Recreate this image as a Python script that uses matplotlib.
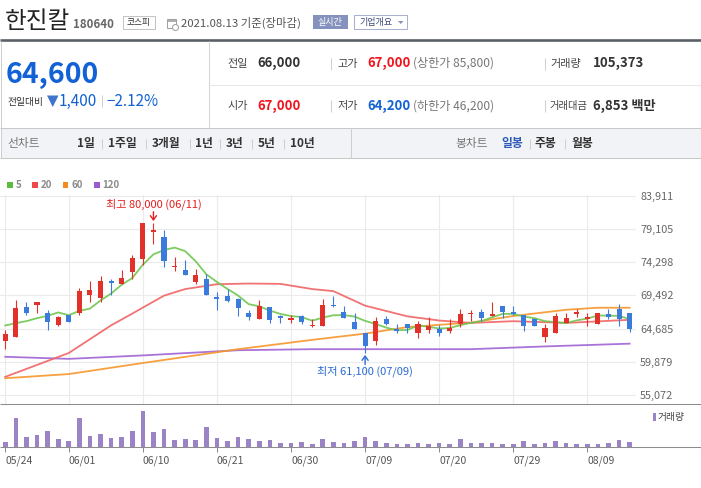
import matplotlib
matplotlib.use("Agg")
import matplotlib.pyplot as plt
from matplotlib.patches import Rectangle, Polygon, Circle
import numpy as np

plt.rcParams["font.family"] = ["Noto Sans CJK KR", "DejaVu Sans"]

W, H = 701, 488

# ---- data (daily candles 2021-05-24 .. 2021-08-13) ----
date_ticks = [0, 6, 13, 20, 27, 34, 41, 48, 55]
date_labels = ["05/24", "06/01", "06/10", "06/21", "06/30", "07/09", "07/20", "07/29", "08/09"]
price_ticks = [55072, 59879, 64685, 69492, 74298, 79105, 83911]

opens = [62950, 63450, 67750, 68150, 66950, 65150, 66600, 66900, 69500, 69100,
         71550, 71100, 72800, 74800, 78600, 78000, 73550, 73100, 71350, 71800,
         69200, 69450, 68950, 67000, 66100, 67750, 66450, 66000, 66500, 65000,
         65050, 68150, 67150, 65700, 64100, 62850, 66000, 64550, 65350, 64100,
         64450, 64550, 64300, 65300, 66750, 67150, 66500, 68000, 67150, 66700,
         66000, 63450, 64000, 65550, 66850, 66150, 65300, 66850, 67450, 67000]
highs = [64500, 68750, 68600, 68600, 67300, 66450, 66600, 70500, 71550, 72300,
         71900, 73200, 75400, 79900, 80000, 78950, 75100, 74650, 73350, 72600,
         69950, 70450, 69100, 67300, 68750, 67750, 66600, 66600, 66700, 66100,
         68950, 69450, 67900, 67000, 64100, 66300, 66450, 65350, 65350, 65850,
         66300, 65150, 66000, 67450, 67300, 67500, 68600, 68000, 68000, 66700,
         66200, 65350, 67000, 67000, 67450, 67000, 67000, 67500, 68300, 67000]
lows = [61700, 63450, 66700, 66900, 64450, 65000, 65600, 66600, 68500, 68600,
        69600, 71100, 71850, 73950, 76900, 73550, 73000, 72400, 71100, 69550,
        67300, 68500, 66450, 65900, 66100, 65550, 65450, 65500, 65400, 64900,
        65050, 67800, 66200, 64600, 61100, 62300, 65150, 64000, 64100, 63300,
        64000, 63600, 64000, 64900, 65850, 65850, 66450, 66200, 66700, 64300,
        65050, 62700, 64000, 65550, 66300, 65050, 65300, 66000, 65050, 64200]
closes = [63850, 67600, 67000, 68600, 65600, 66300, 65600, 70150, 70200, 71500,
          71300, 72000, 74950, 79900, 78950, 74450, 73750, 72400, 72500, 69550,
          68950, 68650, 67650, 66300, 67950, 65900, 66200, 66100, 65650, 65250,
          68150, 67900, 66200, 64600, 62150, 65850, 65300, 64300, 64800, 65350,
          65000, 64000, 64700, 66850, 67000, 66200, 66850, 67150, 66850, 65050,
          65050, 64700, 66450, 66150, 67000, 66300, 67000, 66300, 66000, 64600]
volumes = [105000, 580000, 204000, 244000, 323000, 165000, 125000, 580000, 224000, 263000,
           184000, 204000, 323000, 718000, 303000, 362000, 145000, 165000, 145000, 402000,
           184000, 125000, 204000, 165000, 125000, 145000, 86000, 86000, 105000, 66000,
           165000, 105000, 86000, 125000, 204000, 125000, 86000, 66000, 66000, 86000,
           66000, 86000, 66000, 165000, 86000, 86000, 86000, 66000, 66000, 125000,
           66000, 86000, 125000, 86000, 66000, 66000, 66000, 86000, 145000, 105373]

ma5 = [65130, 65470, 65760, 66190, 66530, 67020, 66620, 67250, 67570, 68750,
       69750, 71030, 71990, 73930, 75420, 76050, 76400, 75890, 74410, 72530,
       71430, 70410, 69460, 68220, 67900, 67290, 66800, 66490, 66360, 65820,
       66270, 66610, 66630, 66420, 65800, 65340, 64820, 64440, 64480, 65120,
       64950, 64690, 64770, 65180, 65510, 65750, 66320, 66810, 66810, 66420,
       66190, 65760, 65620, 65480, 65870, 66120, 66580, 66550, 66520, 66040]
ma20_idx = [0, 6, 10, 12, 15, 17, 20, 23, 26, 29, 31, 34, 38, 41, 44, 48, 53, 59]
ma20 = [57700, 61150, 65150, 66850, 69450, 70400, 71100, 71200, 71150, 70400,
        70100, 68000, 66450, 65850, 65500, 65750, 65500, 65950]
ma60_idx = [0, 6, 13, 22, 29, 34, 38, 44, 48, 53, 56, 59]
ma60 = [57500, 58100, 59700, 61700, 63050, 63950, 64900, 65550, 66500, 67400, 67700, 67700]
ma120_idx = [0, 6, 13, 22, 29, 44, 51, 59]
ma120 = [60600, 60300, 60800, 61550, 61700, 61700, 62100, 62500]

RED = "#e2312b"
BLUE = "#3a7bdc"
PRICE_RED = "#f0141e"
PRICE_BLUE = "#1261d6"
MA_COLORS = {"5": "#6fc650", "20": "#f06464", "60": "#f7962a", "120": "#a064d4"}
LEGEND_COLORS = {"5": "#5dbb3f", "20": "#ef4848", "60": "#f58a1f", "120": "#9b5ad0"}


def px_rect(x0, y0, x1, y1):
    return [x0 / W, 1 - y1 / H, (x1 - x0) / W, (y1 - y0) / H]


fig = plt.figure(figsize=(W / 100, H / 100), dpi=100)
ui = fig.add_axes([0, 0, 1, 1])
ui.set_xlim(0, W)
ui.set_ylim(H, 0)
ui.axis("off")


def hline(y, x0, x1, color, lw=0.75):
    ui.plot([x0, x1], [y, y], color=color, lw=lw, solid_capstyle="butt")


def vline(x, y0, y1, color, lw=0.75):
    ui.plot([x, x], [y0, y1], color=color, lw=lw, solid_capstyle="butt")


def txt(x, y, s, size, color, weight="normal", ha="left", va="center"):
    ui.text(x, y, s, fontsize=size, color=color, fontweight=weight, ha=ha, va=va)


# ---- header ----
txt(5, 22, "한진칼", 17, "#222")
txt(73, 24, "180640", 8.3, "#666", weight="bold")
ui.add_patch(Rectangle((123, 15.5), 31.5, 13.5, fill=False, ec="#c4c4c4", lw=0.75))
txt(138.7, 22.5, "코스피", 6.3, "#333", ha="center")
ui.add_patch(Rectangle((167, 19), 9, 9, fill=False, ec="#a0a0a0", lw=0.75))
hline(21, 167, 176, "#a0a0a0", lw=1.2)
ui.add_patch(Circle((175.5, 27.5), 3, fc="white", ec="#a0a0a0", lw=0.75))
txt(181, 23, "2021.08.13 기준(장마감)", 8.2, "#555")
ui.add_patch(Rectangle((313, 15), 34.5, 14, fc="#8592bd", ec="none"))
txt(330.2, 22.3, "실시간", 6.5, "white", ha="center")
ui.add_patch(Rectangle((354, 15), 53, 14, fc="white", ec="#a8b1d0", lw=0.75))
txt(359, 22.3, "기업개요", 6.5, "#3b4a78")
ui.add_patch(Polygon([(398, 21), (403.5, 21), (400.75, 24)], closed=True, fc="#8a93b0", ec="none"))

# ---- info panel ----
hline(40.2, 0, W, "#5b6068", lw=1.9)
ui.add_patch(Rectangle((0.5, 127.5), W - 1, 30.5, fc="#f2f3f7", ec="none"))
vline(0.5, 41, 158, "#cfcfcf")
vline(700.5, 41, 158, "#cfcfcf")
vline(208.5, 41, 127.5, "#d6d6d6")
hline(84.5, 208.5, 700.5, "#e8e8e8")
hline(127.5, 0, W, "#c8c8c8")
hline(158.3, 0, W, "#c8c8c8")
vline(350.5, 127.5, 158.3, "#cfcfcf")

txt(6, 75, "64,600", 20.5, PRICE_BLUE, weight="bold")
txt(7, 101.5, "전일대비", 7, "#333")
ui.add_patch(Polygon([(47, 95.5), (58.5, 95.5), (52.75, 107)], closed=True, fc="#3f74cc", ec="none"))
txt(58.5, 101.5, "1,400", 11, PRICE_BLUE)
vline(101.5, 95, 107, "#d0d0d0")
txt(106.5, 101.5, "−2.12%", 11, PRICE_BLUE)

rows = [
    (63.5, [("전일", "66,000", "#333", None), ("고가", "67,000", PRICE_RED, "(상한가 85,800)"),
            ("거래량", "105,373", "#333", None)]),
    (106.0, [("시가", "67,000", PRICE_RED, None), ("저가", "64,200", PRICE_BLUE, "(하한가 46,200)"),
             ("거래대금", "6,853 백만", "#333", None)]),
]
col_label_x = [227, 337, 550]
col_value_x = [257, 367, 593]
for y, cells in rows:
    for k, (label, value, color, extra) in enumerate(cells):
        txt(col_label_x[k], y, label, 7.4 if len(label) > 3 else 8, "#444")
        txt(col_value_x[k], y, value, 9.5, color, weight="bold")
        if extra:
            txt(413, y, extra, 8.7, "#777")
    vline(330.5, y - 6, y + 6, "#d0d0d0")
    vline(544.5, y - 6, y + 6, "#d0d0d0")

# ---- period tabs ----
txt(7, 143.5, "선차트", 8.5, "#777")
tabs_left = [(77, "1일"), (108, "1주일"), (152, "3개월"), (195, "1년"),
             (226, "3년"), (258, "5년"), (290, "10년")]
for x0, s in tabs_left:
    txt(x0, 143.5, s, 8.5, "#333", weight="bold")
for xs in [101.5, 145.5, 189.5, 219.5, 251.5, 283.5]:
    vline(xs, 138.5, 148.5, "#cfcfcf")
txt(455, 143.5, "봉차트", 8.5, "#777")
txt(501, 143.5, "일봉", 8.5, "#2e5bb8", weight="bold")
txt(535, 143.5, "주봉", 8.5, "#333", weight="bold")
txt(571, 143.5, "월봉", 8.5, "#333", weight="bold")
for xs in [529.5, 564.5]:
    vline(xs, 138.5, 148.5, "#cfcfcf")

# ---- MA legend ----
legend_x = [7, 32.3, 62.7, 94]
for x0, key in zip(legend_x, ["5", "20", "60", "120"]):
    ui.add_patch(Rectangle((x0, 182.3), 5.6, 5.6, fc=LEGEND_COLORS[key], ec="none"))
    txt(x0 + 8.5, 185.3, key, 7, "#8a8a8a", weight="bold")

# ---- separators around the volume panel ----
hline(404.3, 0, W, "#8c8c8c")
hline(447.3, 0, W, "#8c8c8c")
ui.add_patch(Rectangle((652.7, 413), 3.3, 8, fc="#9a84c6", ec="none"))
txt(658, 417.3, "거래량", 7, "#444")

# ---- price panel ----
k_px = 33.22 / 4806.5
y_bottom = 55072 - (404.3 - 395) / k_px
y_top = 55072 + (395 - 195.2) / k_px
pax = fig.add_axes(px_rect(0, 195.2, 636, 404.3))
pax.set_facecolor("none")
pax.set_xlim(-0.5, 59.6)
pax.set_ylim(y_bottom, y_top)
for s in pax.spines.values():
    s.set_visible(False)
pax.set_xticks(date_ticks)
pax.tick_params(axis="x", length=0, labelbottom=False)
pax.yaxis.tick_right()
pax.set_yticks(price_ticks)
pax.set_yticklabels([f"{v:,}" for v in price_ticks])
pax.tick_params(axis="y", length=0, pad=3, labelsize=7.8, labelcolor="#666")
pax.grid(True, color="#ebebeb", lw=0.8)
pax.set_axisbelow(True)

x = np.arange(len(closes))
pax.plot(ma120_idx, ma120, color=MA_COLORS["120"], lw=1.3, alpha=0.9, zorder=2)
pax.plot(ma60_idx, ma60, color=MA_COLORS["60"], lw=1.3, alpha=0.9, zorder=2)
pax.plot(ma20_idx, ma20, color=MA_COLORS["20"], lw=1.3, alpha=0.9, zorder=2)
pax.plot(x, ma5, color=MA_COLORS["5"], lw=1.3, alpha=0.9, zorder=2)

o = np.array(opens, dtype=float)
c = np.array(closes, dtype=float)
colors = np.where(c >= o, RED, BLUE)
pax.vlines(x, lows, highs, colors=colors, lw=0.8, zorder=3)
body_h = np.maximum(np.abs(c - o), 220)
pax.bar(x, body_h, bottom=(o + c) / 2 - body_h / 2, width=0.48, color=colors, lw=0, zorder=4)

hi_i = int(np.argmax(highs))
lo_i = int(np.argmin(lows))
pax.annotate(f"최고 {highs[hi_i]:,} (06/11)", xy=(hi_i, highs[hi_i]),
             xytext=(0, 18.5), textcoords="offset pixels", ha="center", va="center",
             fontsize=8, color="#e41f1f", zorder=5)
pax.annotate("", xy=(hi_i, highs[hi_i]), xytext=(0, 11), textcoords="offset pixels",
             arrowprops=dict(arrowstyle="->,head_length=0.3,head_width=0.22", color="#e41f1f",
                             lw=1, shrinkA=0, shrinkB=1.2), zorder=5)
pax.annotate(f"최저 {lows[lo_i]:,} ({date_labels[5]})", xy=(lo_i, lows[lo_i]),
             xytext=(0, -17.5), textcoords="offset pixels", ha="center", va="center",
             fontsize=8, color="#2a6ad6", zorder=5)
pax.annotate("", xy=(lo_i, lows[lo_i]), xytext=(0, -11), textcoords="offset pixels",
             arrowprops=dict(arrowstyle="->,head_length=0.3,head_width=0.22", color="#2a6ad6",
                             lw=1, shrinkA=0, shrinkB=1.2), zorder=5)

# ---- volume panel ----
vax = fig.add_axes(px_rect(0, 404.3, 636, 447.3))
vax.set_facecolor("none")
vax.set_xlim(-0.5, 59.6)
vax.set_ylim(0, 845000)
for s in vax.spines.values():
    s.set_visible(False)
vax.bar(x, volumes, width=0.44, color="#9a84c6", lw=0)
vax.set_yticks([])
vax.set_xticks(date_ticks)
vax.set_xticklabels(date_labels)
for lab in vax.get_xticklabels():
    lab.set_horizontalalignment("left")
vax.tick_params(axis="x", direction="out", length=3.3, width=0.75, color="#8c8c8c",
                pad=2.5, labelsize=7.5, labelcolor="#555")

fig.savefig("out.png", dpi=100)
